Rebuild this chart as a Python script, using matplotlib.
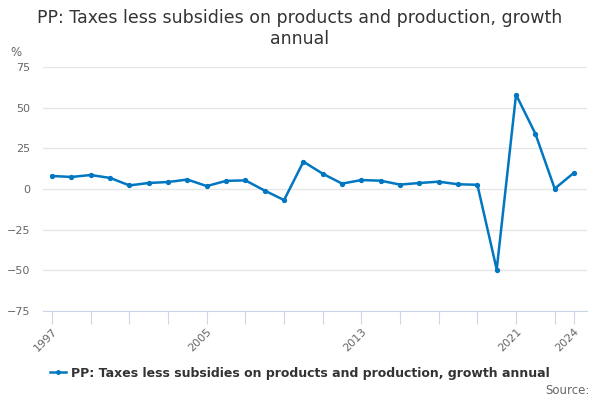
import matplotlib
matplotlib.use("Agg")
import matplotlib.pyplot as plt
from matplotlib.lines import Line2D

# data
years = list(range(1997, 2025))
growth = [8.0, 7.4, 8.6, 6.8, 2.2, 3.7, 4.3, 5.8, 1.8, 5.0, 5.3, -1.0, -6.8,
          16.8, 9.4, 3.3, 5.5, 5.1, 2.7, 3.7, 4.5, 2.9, 2.6, -49.5, 58.0,
          34.0, 0.2, 10.0]
tick_years = list(range(1997, 2024, 2)) + [2024]
label_years = [1997, 2005, 2013, 2021, 2024]
series_name = "PP: Taxes less subsidies on products and production, growth annual"

blue = "#0077c0"
grid_col = "#e6e6e6"
axis_col = "#ccd6eb"
text_col = "#333333"
label_col = "#666666"

fig = plt.figure(figsize=(6, 4), dpi=100)
ax = fig.add_axes([0.0717, 0.2225, 0.9066, 0.61])

ax.plot(years, growth, color=blue, lw=1.8, marker="o", markersize=2.8,
        zorder=3)

ax.set_ylim(-75, 75)
ax.set_xlim(1996.53, 2024.67)
ax.set_yticks([-75, -50, -25, 0, 25, 50, 75])
ax.grid(axis="y", color=grid_col, lw=1)
ax.set_axisbelow(True)

ax.set_xticks(tick_years)
ax.set_xticklabels([str(y) if y in label_years else "" for y in tick_years])
ax.tick_params(axis="x", length=9, color=axis_col, labelcolor=label_col,
               labelsize=8, pad=2, labelrotation=45)
plt.setp(ax.get_xticklabels(), ha="right", rotation_mode="anchor")
ax.tick_params(axis="y", length=0, labelcolor=label_col, labelsize=8, pad=9)

for side in ["top", "right", "left"]:
    ax.spines[side].set_visible(False)
ax.spines["bottom"].set_color(axis_col)

fig.text(0.5, 0.929, "PP: Taxes less subsidies on products and production, growth\nannual",
         ha="center", va="center", fontsize=12.5, color=text_col,
         linespacing=1.25)
fig.text(0.017, 0.87, "%", fontsize=8.5, color=label_col, ha="left", va="center")

handle = Line2D([], [], color=blue, lw=1.8, marker="o", markersize=2.5)
fig.legend([handle], [series_name], loc="center", bbox_to_anchor=(0.5, 0.067),
           frameon=False, handlelength=1.3, handletextpad=0.4,
           prop={"weight": "bold", "size": 9})
fig.legends[0].get_texts()[0].set_color(text_col)

fig.text(0.982, 0.025, "Source:", ha="right", va="center", fontsize=8.5,
         color=label_col)

plt.savefig("out.png", dpi=100)
